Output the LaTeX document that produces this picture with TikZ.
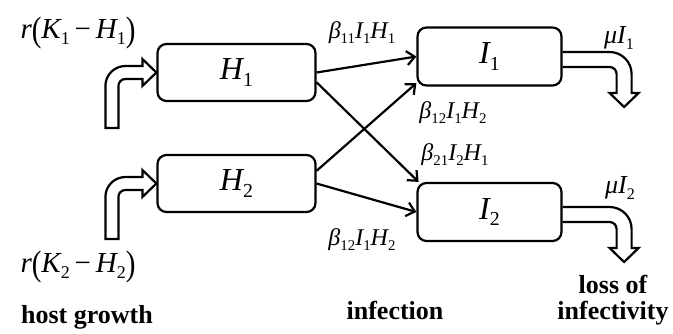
\documentclass[tikz,border=0pt]{standalone}
\usepackage{fontspec}
\setmainfont{Liberation Serif}
\usepackage{graphicx}
\usetikzlibrary{arrows.meta,calc}

\newcommand{\lo}[1]{\raisebox{-0.45ex}{\scalebox{0.62}{\upshape #1}}}
\newcommand{\up}[1]{{\upshape #1}}
\newcommand{\tall}[1]{\raisebox{-0.12em}{\scalebox{1}[1.22]{\upshape #1}}}

\tikzset{
  comp/.style={draw, line width=2.2pt, rounded corners=9pt, inner sep=0pt,
    minimum width=158pt, minimum height=57pt,
    font=\fontsize{32}{32}\selectfont\itshape},
  rate/.style={inner sep=0pt, font=\fontsize{24}{24}\selectfont\itshape},
  src/.style={inner sep=0pt, font=\fontsize{29}{29}\selectfont\itshape},
  hdr/.style={inner sep=0pt, align=center, font=\fontsize{26}{26}\selectfont\bfseries},
  flow/.style={line width=2.2pt, -{Straight Barb[length=8pt,width=14pt]}},
  fat/.style={draw, line width=2.2pt, line join=miter},
  grow/.pic={
    \draw[fat] (-51,55.5) -- (-51,13.5) .. controls (-51,2.45) and (-42.05,-6.5) .. (-31,-6.5)
      -- (-14,-6.5) -- (-14,-13.5) -- (0,0) -- (-14,13.5) -- (-14,6.5) -- (-31,6.5)
      .. controls (-34.87,6.5) and (-38,9.63) .. (-38,13.5) -- (-38,55.5) -- cycle;
  },
  loss/.pic={
    \draw[fat] (0,-7.5) -- (47,-7.5) .. controls (59.15,-7.5) and (69,2.35) .. (69,14.5)
      -- (69,33.5) -- (76,33.5) -- (61.5,47.5) -- (47,33.5) -- (54,33.5) -- (54,14.5)
      .. controls (54,10.63) and (50.87,7.5) .. (47,7.5) -- (0,7.5);
  }
}

\begin{document}
\begin{tikzpicture}[x=1pt,y=-1pt]
\useasboundingbox (0,0) rectangle (673,333);

% compartments
\node[comp] (H1) at (236.5,72.5) {H\lo{1}};
\node[comp] (H2) at (236.5,183.5) {H\lo{2}};
\node[comp, minimum width=144pt, minimum height=58pt] (I1) at (489.5,56.5) {I\lo{1}};
\node[comp, minimum width=144pt, minimum height=58pt] (I2) at (489.5,212) {I\lo{2}};

% infection
\draw[flow] (H1.east) -- (I1.west);
\draw[flow] (H1.-7) -- (I2.157);
\draw[flow] (H2.9) -- (I1.200);
\draw[flow] (H2.east) -- (I2.west);

% growth and loss
\pic at (H1.west) {grow};
\pic at (H2.west) {grow};
\pic at ($(I1.east)+(0,3)$) {loss};
\pic at ($(I2.east)+(0,2.5)$) {loss};

% rates
\node[src] (g1) at (78,33) {r\tall{(}K\lo{1}\,\up{−}\,H\lo{1}\tall{)}};
\node[src] (g2) at (78,267) {r\tall{(}K\lo{2}\,\up{−}\,H\lo{2}\tall{)}};
\node[rate] (b11) at (362,33) {β\lo{11}I\lo{1}H\lo{1}};
\node[rate] (b12a) at (453,113) {β\lo{12}I\lo{1}H\lo{2}};
\node[rate] (b21) at (455,155) {β\lo{21}I\lo{2}H\lo{1}};
\node[rate] (b12b) at (362,240) {β\lo{12}I\lo{1}H\lo{2}};
\node[rate, font=\fontsize{26}{26}\selectfont\itshape] (m1) at (619,38) {μI\lo{1}};
\node[rate, font=\fontsize{26}{26}\selectfont\itshape] (m2) at (620,188) {μI\lo{2}};

% headings
\node[hdr] (hg) at (87,317) {host growth};
\node[hdr] (inf) at (395,310) {infection};
\node[hdr] (li) at (613,300) {loss of\\infectivity};
\end{tikzpicture}
\end{document}
